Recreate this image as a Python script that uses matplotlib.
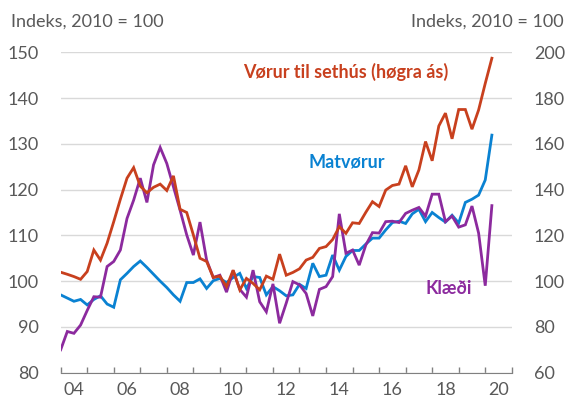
#!/usr/bin/env python3
"""Prísvísitøl: vørur til sethús, matvørur og klæði (2010 = 100)."""
import matplotlib

matplotlib.use("Agg")
import matplotlib.pyplot as plt
from matplotlib.ticker import FixedLocator, NullFormatter
import numpy as np
import pandas as pd

quarters = pd.period_range("2004Q1", "2020Q2", freq="Q")

# vinstra ás
matvorur = [
    97.0, 96.3, 95.6, 96.0, 94.8, 96.0, 96.8, 95.0, 94.3, 100.3, 101.7, 103.2,
    104.4, 103.0, 101.5, 100.0, 98.6, 97.0, 95.6, 99.7, 99.7, 100.5, 98.4, 100.1,
    100.6, 99.7, 100.8, 101.7, 98.4, 101.0, 100.8, 97.0, 98.8, 97.9, 96.8, 97.0,
    99.3, 98.4, 103.9, 101.0, 101.3, 105.7, 102.4, 105.4, 106.7, 106.7, 108.1, 109.4,
    109.4, 111.2, 112.8, 113.1, 112.6, 114.7, 115.7, 113.0, 115.0, 113.9, 112.9, 114.4,
    112.7, 117.2, 117.9, 118.8, 122.1, 131.9,
]
klaedi = [
    85.0, 89.0, 88.6, 90.4, 93.6, 96.6, 96.5, 103.2, 104.3, 106.8, 113.7, 117.7,
    122.5, 117.2, 125.4, 129.2, 125.7, 120.6, 115.5, 110.1, 105.7, 112.9, 104.6, 100.8,
    101.3, 97.6, 102.3, 98.2, 96.5, 102.4, 95.5, 93.3, 99.4, 90.8, 95.2, 99.9,
    99.2, 97.3, 92.4, 98.2, 98.8, 101.0, 114.7, 106.1, 106.8, 103.5, 107.9, 110.6,
    110.5, 113.0, 113.1, 112.8, 114.8, 115.5, 116.1, 114.2, 119.0, 119.0, 113.0, 114.2,
    111.8, 112.3, 116.4, 110.5, 99.0, 116.5,
]
# høgri ás
sethus = [
    103.9, 103.0, 102.0, 100.8, 104.2, 113.6, 109.2, 116.6, 126.0, 135.8, 145.0, 149.6,
    141.5, 138.6, 141.0, 142.4, 139.6, 146.0, 131.4, 130.0, 120.2, 110.0, 108.6, 101.6,
    102.2, 97.6, 104.8, 96.2, 101.2, 99.0, 96.2, 102.2, 100.8, 111.8, 102.6, 103.8,
    105.4, 109.2, 110.4, 114.3, 115.1, 118.2, 123.8, 120.9, 125.5, 125.2, 130.1, 134.7,
    132.6, 139.8, 141.8, 142.4, 150.4, 141.2, 148.6, 161.0, 152.6, 167.8, 173.4, 162.2,
    175.0, 175.0, 166.4, 174.8, 186.4, 197.4,
]

year_labels = ["04", "06", "08", "10", "12", "14", "16", "18", "20"]
left_ticks = [80, 90, 100, 110, 120, 130, 140, 150]
right_ticks = [60, 80, 100, 120, 140, 160, 180, 200]

RED = "#c8401e"
BLUE = "#0a82d2"
PURPLE = "#8c2a9e"
GREY = "#595959"
FS = 13

plt.rcParams["font.family"] = ["Lato", "DejaVu Sans"]

x = np.array([q.year + (q.quarter - 1) / 4 for q in quarters])

fig = plt.figure(figsize=(5.66, 4.01), dpi=100)
ax = fig.add_axes([0.1072, 0.0706, 0.797, 0.799])
ax2 = ax.twinx()

ax.plot(x, matvorur, color=BLUE, lw=2.0, solid_joinstyle="miter")
ax.plot(x, klaedi, color=PURPLE, lw=2.0, solid_joinstyle="miter")
ax2.plot(x, sethus, color=RED, lw=2.0, solid_joinstyle="miter")

ax.set_xlim(2004, 2021)
ax.set_ylim(80, 150)
ax2.set_ylim(60, 200)
ax.set_yticks(left_ticks)
ax2.set_yticks(right_ticks)
ax.grid(axis="y", color="#d9d9d9", lw=1)
ax.set_axisbelow(True)

# árstikk inni, merki mitt í árinum
ax.xaxis.set_major_locator(FixedLocator(np.arange(2004, 2022)))
ax.xaxis.set_major_formatter(NullFormatter())
ax.set_xticks(np.arange(2004, 2021, 2) + 0.5, year_labels, minor=True)
ax.tick_params(axis="x", which="major", direction="in", length=4, color="#808080", width=1)
ax.tick_params(axis="x", which="minor", length=0, pad=7, labelsize=FS, labelcolor=GREY)
ax.tick_params(axis="y", length=0, pad=16, labelsize=FS, labelcolor=GREY)
ax2.tick_params(axis="y", length=0, pad=16, labelsize=FS, labelcolor=GREY)

for a in (ax, ax2):
    for side in ("left", "right", "top", "bottom"):
        a.spines[side].set_visible(False)
ax.spines["bottom"].set_visible(True)
ax.spines["bottom"].set_color("#808080")

fig.text(0.02, 0.945, "Indeks, 2010 = 100", fontsize=FS, color=GREY, va="center", ha="left")
fig.text(0.995, 0.945, "Indeks, 2010 = 100", fontsize=FS, color=GREY, va="center", ha="right")

ax.text(2014.75, 145.8, "Vørur til sethús (høgra ás)", color=RED, fontsize=FS,
        fontweight="bold", ha="center", va="center")
ax.text(2014.79, 126.1, "Matvørur", color=BLUE, fontsize=FS,
        fontweight="bold", ha="center", va="center")
ax.text(2018.64, 98.3, "Klæði", color=PURPLE, fontsize=FS,
        fontweight="bold", ha="center", va="center")

fig.savefig("out.png", dpi=100)
